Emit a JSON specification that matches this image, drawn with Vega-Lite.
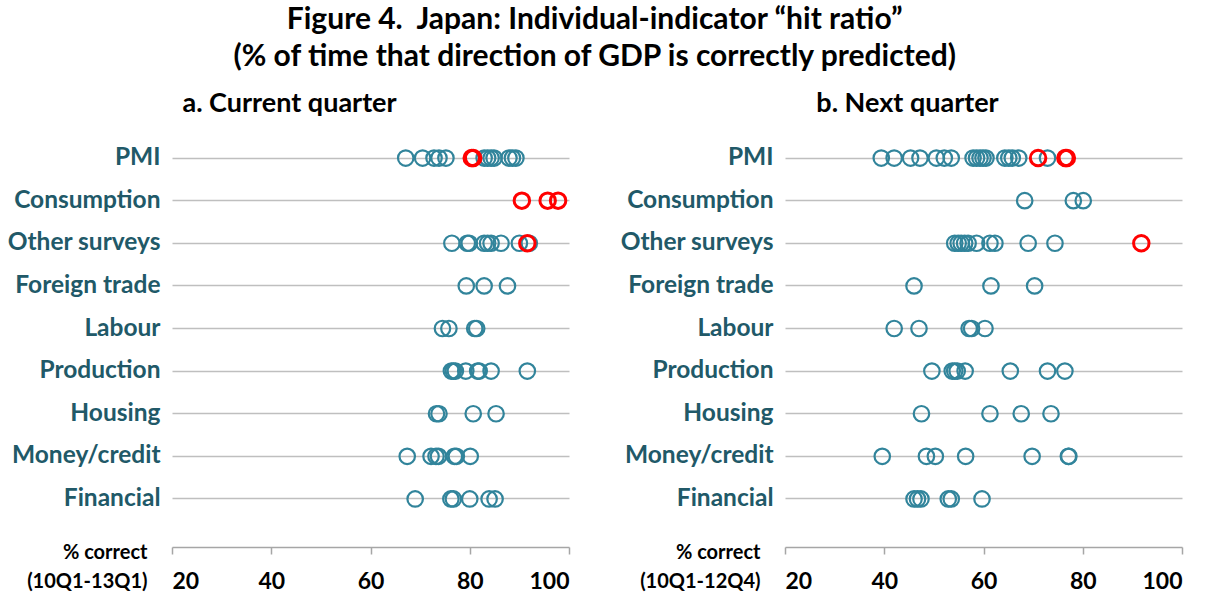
{
  "$schema": "https://vega.github.io/schema/vega-lite/v6.json",
  "background": "white",
  "padding": {"left": 6, "top": 5, "right": 3, "bottom": 0},
  "title": {
    "text": ["Figure 4.\u00a0 Japan: Individual-indicator “hit ratio”", "(% of time that direction of GDP is correctly predicted)"],
    "font": "Lato", "fontSize": 30, "fontWeight": "bold", "color": "black",
    "anchor": "middle", "lineHeight": 37, "offset": 18
  },
  "config": {
    "view": {"stroke": null},
    "concat": {"spacing": 47},
    "axisY": {
      "grid": true, "gridColor": "#BFBFBF", "gridWidth": 1.5,
      "domain": false, "ticks": false,
      "labelFont": "Lato", "labelFontSize": 24.5, "labelFontWeight": "bold", "labelColor": "#215968",
      "labelPadding": 12, "title": null
    },
    "axisX": {
      "grid": false, "domainColor": "#A6A6A6", "domainWidth": 1.5, "tickColor": "#A6A6A6", "tickWidth": 1.5,
      "tickSize": 7, "labelFont": "Lato", "labelFontSize": 23, "labelFontWeight": "bold", "labelColor": "black",
      "labelPadding": 16, "titleFont": "Lato", "titleFontSize": 20, "titleFontWeight": "bold", "titleColor": "black",
      "titleAlign": "right", "titleBaseline": "top", "titleX": -25, "titleY": -5, "titleLineHeight": 29
    }
  },
  "datasets": {
    "current": [
      {"indicator": "PMI", "value": 67.1, "highlight": "no"},
      {"indicator": "PMI", "value": 70.5, "highlight": "no"},
      {"indicator": "PMI", "value": 72.8, "highlight": "no"},
      {"indicator": "PMI", "value": 73.8, "highlight": "no"},
      {"indicator": "PMI", "value": 75.2, "highlight": "no"},
      {"indicator": "PMI", "value": 82.9, "highlight": "no"},
      {"indicator": "PMI", "value": 83.6, "highlight": "no"},
      {"indicator": "PMI", "value": 84.3, "highlight": "no"},
      {"indicator": "PMI", "value": 84.9, "highlight": "no"},
      {"indicator": "PMI", "value": 87.9, "highlight": "no"},
      {"indicator": "PMI", "value": 88.6, "highlight": "no"},
      {"indicator": "PMI", "value": 89.3, "highlight": "no"},
      {"indicator": "PMI", "value": 80.4, "highlight": "yes"},
      {"indicator": "PMI", "value": 80.7, "highlight": "yes"},
      {"indicator": "Consumption", "value": 90.5, "highlight": "yes"},
      {"indicator": "Consumption", "value": 95.7, "highlight": "yes"},
      {"indicator": "Consumption", "value": 97.8, "highlight": "yes"},
      {"indicator": "Other surveys", "value": 76.4, "highlight": "no"},
      {"indicator": "Other surveys", "value": 79.5, "highlight": "no"},
      {"indicator": "Other surveys", "value": 79.9, "highlight": "no"},
      {"indicator": "Other surveys", "value": 82.9, "highlight": "no"},
      {"indicator": "Other surveys", "value": 83.6, "highlight": "no"},
      {"indicator": "Other surveys", "value": 84.3, "highlight": "no"},
      {"indicator": "Other surveys", "value": 86.3, "highlight": "no"},
      {"indicator": "Other surveys", "value": 90.0, "highlight": "no"},
      {"indicator": "Other surveys", "value": 92.0, "highlight": "no"},
      {"indicator": "Other surveys", "value": 91.6, "highlight": "yes"},
      {"indicator": "Foreign trade", "value": 79.3, "highlight": "no"},
      {"indicator": "Foreign trade", "value": 82.9, "highlight": "no"},
      {"indicator": "Foreign trade", "value": 87.6, "highlight": "no"},
      {"indicator": "Labour", "value": 74.5, "highlight": "no"},
      {"indicator": "Labour", "value": 75.8, "highlight": "no"},
      {"indicator": "Labour", "value": 81.0, "highlight": "no"},
      {"indicator": "Labour", "value": 81.4, "highlight": "no"},
      {"indicator": "Production", "value": 76.3, "highlight": "no"},
      {"indicator": "Production", "value": 76.7, "highlight": "no"},
      {"indicator": "Production", "value": 77.1, "highlight": "no"},
      {"indicator": "Production", "value": 79.2, "highlight": "no"},
      {"indicator": "Production", "value": 81.6, "highlight": "no"},
      {"indicator": "Production", "value": 81.9, "highlight": "no"},
      {"indicator": "Production", "value": 84.3, "highlight": "no"},
      {"indicator": "Production", "value": 91.6, "highlight": "no"},
      {"indicator": "Housing", "value": 73.3, "highlight": "no"},
      {"indicator": "Housing", "value": 73.8, "highlight": "no"},
      {"indicator": "Housing", "value": 80.7, "highlight": "no"},
      {"indicator": "Housing", "value": 85.3, "highlight": "no"},
      {"indicator": "Money/credit", "value": 67.4, "highlight": "no"},
      {"indicator": "Money/credit", "value": 72.2, "highlight": "no"},
      {"indicator": "Money/credit", "value": 73.2, "highlight": "no"},
      {"indicator": "Money/credit", "value": 73.7, "highlight": "no"},
      {"indicator": "Money/credit", "value": 76.9, "highlight": "no"},
      {"indicator": "Money/credit", "value": 77.3, "highlight": "no"},
      {"indicator": "Money/credit", "value": 80.1, "highlight": "no"},
      {"indicator": "Financial", "value": 69.0, "highlight": "no"},
      {"indicator": "Financial", "value": 76.2, "highlight": "no"},
      {"indicator": "Financial", "value": 76.7, "highlight": "no"},
      {"indicator": "Financial", "value": 80.0, "highlight": "no"},
      {"indicator": "Financial", "value": 83.9, "highlight": "no"},
      {"indicator": "Financial", "value": 85.1, "highlight": "no"}
    ],
    "next": [
      {"indicator": "PMI", "value": 39.4, "highlight": "no"},
      {"indicator": "PMI", "value": 42.0, "highlight": "no"},
      {"indicator": "PMI", "value": 45.3, "highlight": "no"},
      {"indicator": "PMI", "value": 47.2, "highlight": "no"},
      {"indicator": "PMI", "value": 50.5, "highlight": "no"},
      {"indicator": "PMI", "value": 52.1, "highlight": "no"},
      {"indicator": "PMI", "value": 53.5, "highlight": "no"},
      {"indicator": "PMI", "value": 57.9, "highlight": "no"},
      {"indicator": "PMI", "value": 58.6, "highlight": "no"},
      {"indicator": "PMI", "value": 59.3, "highlight": "no"},
      {"indicator": "PMI", "value": 59.9, "highlight": "no"},
      {"indicator": "PMI", "value": 60.5, "highlight": "no"},
      {"indicator": "PMI", "value": 64.3, "highlight": "no"},
      {"indicator": "PMI", "value": 65.1, "highlight": "no"},
      {"indicator": "PMI", "value": 65.8, "highlight": "no"},
      {"indicator": "PMI", "value": 67.1, "highlight": "no"},
      {"indicator": "PMI", "value": 72.9, "highlight": "no"},
      {"indicator": "PMI", "value": 71.0, "highlight": "yes"},
      {"indicator": "PMI", "value": 76.5, "highlight": "yes"},
      {"indicator": "PMI", "value": 76.8, "highlight": "yes"},
      {"indicator": "Consumption", "value": 68.3, "highlight": "no"},
      {"indicator": "Consumption", "value": 78.1, "highlight": "no"},
      {"indicator": "Consumption", "value": 80.1, "highlight": "no"},
      {"indicator": "Other surveys", "value": 54.2, "highlight": "no"},
      {"indicator": "Other surveys", "value": 54.9, "highlight": "no"},
      {"indicator": "Other surveys", "value": 55.5, "highlight": "no"},
      {"indicator": "Other surveys", "value": 56.2, "highlight": "no"},
      {"indicator": "Other surveys", "value": 56.9, "highlight": "no"},
      {"indicator": "Other surveys", "value": 58.6, "highlight": "no"},
      {"indicator": "Other surveys", "value": 61.3, "highlight": "no"},
      {"indicator": "Other surveys", "value": 62.3, "highlight": "no"},
      {"indicator": "Other surveys", "value": 69.0, "highlight": "no"},
      {"indicator": "Other surveys", "value": 74.4, "highlight": "no"},
      {"indicator": "Other surveys", "value": 91.8, "highlight": "yes"},
      {"indicator": "Foreign trade", "value": 46.0, "highlight": "no"},
      {"indicator": "Foreign trade", "value": 61.5, "highlight": "no"},
      {"indicator": "Foreign trade", "value": 70.3, "highlight": "no"},
      {"indicator": "Labour", "value": 42.0, "highlight": "no"},
      {"indicator": "Labour", "value": 47.0, "highlight": "no"},
      {"indicator": "Labour", "value": 57.1, "highlight": "no"},
      {"indicator": "Labour", "value": 57.6, "highlight": "no"},
      {"indicator": "Labour", "value": 60.3, "highlight": "no"},
      {"indicator": "Production", "value": 49.6, "highlight": "no"},
      {"indicator": "Production", "value": 53.7, "highlight": "no"},
      {"indicator": "Production", "value": 54.2, "highlight": "no"},
      {"indicator": "Production", "value": 54.7, "highlight": "no"},
      {"indicator": "Production", "value": 56.3, "highlight": "no"},
      {"indicator": "Production", "value": 65.4, "highlight": "no"},
      {"indicator": "Production", "value": 72.9, "highlight": "no"},
      {"indicator": "Production", "value": 76.4, "highlight": "no"},
      {"indicator": "Housing", "value": 47.5, "highlight": "no"},
      {"indicator": "Housing", "value": 61.3, "highlight": "no"},
      {"indicator": "Housing", "value": 67.6, "highlight": "no"},
      {"indicator": "Housing", "value": 73.6, "highlight": "no"},
      {"indicator": "Money/credit", "value": 39.6, "highlight": "no"},
      {"indicator": "Money/credit", "value": 48.5, "highlight": "no"},
      {"indicator": "Money/credit", "value": 50.3, "highlight": "no"},
      {"indicator": "Money/credit", "value": 56.4, "highlight": "no"},
      {"indicator": "Money/credit", "value": 69.8, "highlight": "no"},
      {"indicator": "Money/credit", "value": 77.1, "highlight": "no"},
      {"indicator": "Money/credit", "value": 77.2, "highlight": "no"},
      {"indicator": "Financial", "value": 46.0, "highlight": "no"},
      {"indicator": "Financial", "value": 46.7, "highlight": "no"},
      {"indicator": "Financial", "value": 47.4, "highlight": "no"},
      {"indicator": "Financial", "value": 52.9, "highlight": "no"},
      {"indicator": "Financial", "value": 53.5, "highlight": "no"},
      {"indicator": "Financial", "value": 59.7, "highlight": "no"}
    ]
  },
  "hconcat": [
    {
      "title": {"text": "a. Current quarter", "font": "Lato", "fontSize": 27, "fontWeight": "bold", "color": "black", "anchor": "middle", "dx": -81, "offset": -8},
      "width": 397, "height": 437,
      "data": {"name": "current"},
      "encoding": {
        "y": {"field": "indicator", "type": "nominal",
          "sort": ["PMI", "Consumption", "Other surveys", "Foreign trade", "Labour", "Production", "Housing", "Money/credit", "Financial"],
          "scale": {"type": "band", "paddingInner": 0, "paddingOuter": 0.627}},
        "x": {"field": "value", "type": "quantitative", "scale": {"domain": [20, 100], "nice": false, "zero": false},
          "axis": {"values": [20, 40, 60, 80, 100], "title": ["% correct", "(10Q1-13Q1)"]}}
      },
      "layer": [
        {"transform": [{"filter": "datum.highlight == 'no'"}],
          "mark": {"type": "point", "shape": "circle", "filled": false, "stroke": "#31849B", "strokeWidth": 2.2, "size": 240, "opacity": 1}},
        {"transform": [{"filter": "datum.highlight == 'yes'"}],
          "mark": {"type": "point", "shape": "circle", "filled": false, "stroke": "#FF0000", "strokeWidth": 3, "size": 240, "opacity": 1}}
      ]
    },
    {
      "title": {"text": "b. Next quarter", "font": "Lato", "fontSize": 27, "fontWeight": "bold", "color": "black", "anchor": "middle", "dx": -76, "offset": -8},
      "width": 397, "height": 437,
      "data": {"name": "next"},
      "encoding": {
        "y": {"field": "indicator", "type": "nominal",
          "sort": ["PMI", "Consumption", "Other surveys", "Foreign trade", "Labour", "Production", "Housing", "Money/credit", "Financial"],
          "scale": {"type": "band", "paddingInner": 0, "paddingOuter": 0.627}},
        "x": {"field": "value", "type": "quantitative", "scale": {"domain": [20, 100], "nice": false, "zero": false},
          "axis": {"values": [20, 40, 60, 80, 100], "title": ["% correct", "(10Q1-12Q4)"]}}
      },
      "layer": [
        {"transform": [{"filter": "datum.highlight == 'no'"}],
          "mark": {"type": "point", "shape": "circle", "filled": false, "stroke": "#31849B", "strokeWidth": 2.2, "size": 240, "opacity": 1}},
        {"transform": [{"filter": "datum.highlight == 'yes'"}],
          "mark": {"type": "point", "shape": "circle", "filled": false, "stroke": "#FF0000", "strokeWidth": 3, "size": 240, "opacity": 1}}
      ]
    }
  ]
}
